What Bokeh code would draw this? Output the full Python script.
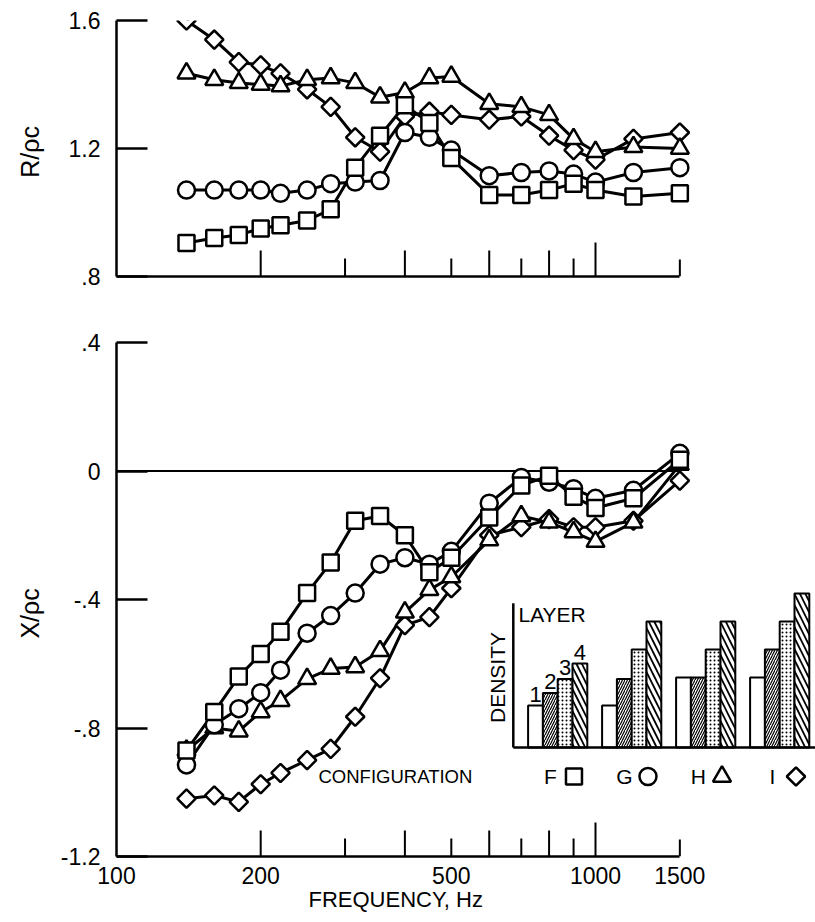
import numpy as np
from bokeh.plotting import figure
from bokeh.layouts import column
from bokeh.models import Range1d, FixedTicker, Label, LinearScale
from bokeh.embed import file_html
from bokeh.resources import INLINE
from bokeh.core.properties import value

FONT = "Liberation Sans"

# ---------------- data ----------------
freq = [140, 160, 180, 200, 220, 250, 280, 315, 355, 400,
        450, 500, 600, 700, 800, 900, 1000, 1200, 1500]

# resistance R/rho c
r_F = [0.905, 0.92, 0.93, 0.95, 0.96, 0.975, 1.01, 1.14, 1.24, 1.335,
       1.28, 1.17, 1.055, 1.055, 1.07, 1.09, 1.07, 1.05, 1.06]
r_G = [1.07, 1.07, 1.07, 1.07, 1.06, 1.07, 1.09, 1.095, 1.10, 1.25,
       1.235, 1.195, 1.115, 1.125, 1.13, 1.12, 1.095, 1.125, 1.14]
r_H = [1.435, 1.415, 1.405, 1.40, 1.395, 1.415, 1.42, 1.405, 1.36, 1.375,
       1.42, 1.425, 1.34, 1.33, 1.305, 1.23, 1.19, 1.205, 1.20]
r_I = [1.60, 1.54, 1.47, 1.46, 1.435, 1.385, 1.33, 1.235, 1.19, 1.30,
       1.315, 1.305, 1.29, 1.30, 1.24, 1.195, 1.165, 1.23, 1.25]

# reactance X/rho c
x_F = [-0.87, -0.75, -0.64, -0.57, -0.50, -0.38, -0.285, -0.155, -0.14, -0.20,
       -0.315, -0.27, -0.145, -0.045, -0.015, -0.08, -0.115, -0.085, 0.035]
x_G = [-0.915, -0.79, -0.74, -0.69, -0.62, -0.505, -0.45, -0.38, -0.29, -0.27,
       -0.29, -0.25, -0.10, -0.02, -0.035, -0.055, -0.085, -0.06, 0.055]
x_H = [-0.87, -0.80, -0.81, -0.75, -0.715, -0.647, -0.615, -0.61, -0.56, -0.44,
       -0.37, -0.33, -0.215, -0.14, -0.16, -0.19, -0.22, -0.16, 0.02]
x_I = [-1.02, -1.01, -1.03, -0.975, -0.94, -0.90, -0.865, -0.765, -0.645, -0.48,
       -0.455, -0.365, -0.20, -0.175, -0.15, -0.175, -0.175, -0.155, -0.03]

configs = ["F", "G", "H", "I"]
layers = ["1", "2", "3", "4"]
# inset: layer density per configuration (relative units)
dens_F = [3, 3.9, 4.9, 6]
dens_G = [3, 4.9, 7, 9]
dens_H = [5, 5, 7, 9]
dens_I = [5, 7, 9, 11]

x_label_ticks = [100, 200, 500, 1000, 1500]
x_label_text = ["100", "200", "500", "1000", "1500"]
x_tick_marks = [200, 300, 400, 500, 600, 700, 800, 900, 1000, 1500]
r_ticks = [0.8, 1.2, 1.6]
r_tick_text = [".8", "1.2", "1.6"]
x_ticks = [-1.2, -0.8, -0.4, 0.0, 0.4]
x_tick_text = ["-1.2", "-.8", "-.4", "0", ".4"]

# ---------------- styles ----------------
marker_style = {
    "F": dict(marker="square", size=16, angle=0.0),
    "G": dict(marker="circle", size=17, angle=0.0),
    "H": dict(marker="triangle", size=18, angle=0.0),
    "I": dict(marker="square", size=13, angle=np.pi / 4),
}
layer_hatch = [
    dict(hatch_pattern=" ", hatch_scale=1, hatch_weight=1),
    dict(hatch_pattern="/", hatch_scale=5, hatch_weight=1.2),
    dict(hatch_pattern=".", hatch_scale=4, hatch_weight=1.2),
    dict(hatch_pattern="\\", hatch_scale=11, hatch_weight=1.8),
]

NBSP = "\u00a0"
LEFT = 116               # frame left edge, px
FIG_W = 815
DECADE = 479.0           # px per decade
FRAME_W = FIG_W - LEFT
xr = Range1d(100, 100 * 10 ** (FRAME_W / DECADE))


def tick_len(f):
    if f == 1000:
        return 34
    if f == 1500:
        return 17
    return 26 if (f // 100) % 2 == 0 else 18


def base_fig(height, yr, top, bottom, ylabel, ylabel_standoff):
    p = figure(width=FIG_W, height=height, x_axis_type="log", x_range=xr, y_range=yr,
               output_backend="svg", toolbar_location=None,
               min_border_left=LEFT, min_border_right=0,
               min_border_top=top, min_border_bottom=bottom)
    p.outline_line_color = None
    p.grid.grid_line_color = None
    p.background_fill_color = "white"
    p.border_fill_color = "white"
    xa = p.xaxis[0]
    xa.bounds = (100, 1500)
    xa.axis_line_width = 2.5
    xa.major_tick_in = 0
    xa.major_tick_out = 0
    xa.minor_tick_in = 0
    xa.minor_tick_out = 0
    ya = p.yaxis[0]
    ya.axis_line_width = 2.5
    ya.major_tick_in = 31
    ya.major_tick_out = 0
    ya.major_tick_line_width = 2.5
    ya.minor_tick_in = 0
    ya.minor_tick_out = 0
    ya.major_label_standoff = 16
    ya.major_label_text_font = FONT
    ya.major_label_text_font_size = "23px"
    ya.major_label_text_color = "black"
    ya.axis_label = ylabel
    ya.axis_label_standoff = ylabel_standoff
    ya.axis_label_text_font = FONT
    ya.axis_label_text_font_size = "25px"
    ya.axis_label_text_font_style = "normal"
    ya.axis_label_text_color = "black"
    # tick marks along the frequency axis (pointing inward)
    p.ray(x=x_tick_marks, y=[yr.start] * len(x_tick_marks),
          length=[tick_len(f) for f in x_tick_marks], length_units="screen",
          angle=90, angle_units="deg", line_color="black", line_width=2)
    return p


def draw_series(p, series):
    for c, ys in series:
        p.line(freq, ys, line_color="black", line_width=3)
    for c, ys in series:
        st = marker_style[c]
        p.scatter(freq, ys, marker=st["marker"], size=st["size"], angle=st["angle"],
                  fill_color="white", line_color="black", line_width=2.5)


# ---------------- top panel: R/rho c ----------------
top = base_fig(310, Range1d(0.8, 1.6), 20, 34, "R/\u03c1c" + NBSP, 22)
top.xaxis[0].ticker = FixedTicker(ticks=[], minor_ticks=[])
top.yaxis[0].ticker = FixedTicker(ticks=r_ticks, minor_ticks=[])
top.yaxis[0].major_label_overrides = dict(zip(r_ticks, r_tick_text))
draw_series(top, [("I", r_I), ("H", r_H), ("G", r_G), ("F", r_F)])

# ---------------- bottom panel: X/rho c ----------------
FR_TOP, FR_BOT = 342, 856
BOT_TOP_B, BOT_BOTTOM_B = 32, 66
bot = base_fig(BOT_TOP_B + (FR_BOT - FR_TOP) + BOT_BOTTOM_B, Range1d(-1.2, 0.4),
               BOT_TOP_B, BOT_BOTTOM_B, "X/\u03c1c" + NBSP * 4, 14)
xa = bot.xaxis[0]
xa.ticker = FixedTicker(ticks=x_label_ticks, minor_ticks=[])
xa.major_label_overrides = dict(zip(x_label_ticks, x_label_text))
xa.major_label_standoff = 10
xa.major_label_text_font = FONT
xa.major_label_text_font_size = "23px"
xa.major_label_text_color = "black"
# the title sits left of the frame centre: pad it with no-break spaces
xa.axis_label = "FREQUENCY, Hz" + NBSP * 23
xa.axis_label_standoff = 0
xa.axis_label_text_font = FONT
xa.axis_label_text_font_size = "22px"
xa.axis_label_text_font_style = "normal"
xa.axis_label_text_color = "black"
bot.yaxis[0].ticker = FixedTicker(ticks=x_ticks, minor_ticks=[])
bot.yaxis[0].major_label_overrides = dict(zip(x_ticks, x_tick_text))

# inset coordinate system: 1 unit = one bar (14.8 px) horizontally, 14 px per density unit
BAR_PX, DEN_PX, BAR0_X, BASE_Y = 14.8, 14.0, 535.0, 747.0
bot.extra_x_ranges = {"ix": Range1d((LEFT - BAR0_X) / BAR_PX, (FIG_W - BAR0_X) / BAR_PX)}
bot.extra_x_scales = {"ix": LinearScale()}
bot.extra_y_ranges = {"iy": Range1d((BASE_Y - FR_BOT) / DEN_PX, (BASE_Y - FR_TOP) / DEN_PX)}
bot.extra_y_scales = {"iy": LinearScale()}

bot.line([100, 1500], [0, 0], line_color="black", line_width=2)
draw_series(bot, [("I", x_I), ("H", x_H), ("G", x_G), ("F", x_F)])

# ---------------- inset bar chart ----------------
dens = {"F": dens_F, "G": dens_G, "H": dens_H, "I": dens_I}
GROUP_STEP = 5
for li in range(4):
    xs = [GROUP_STEP * gi + li for gi in range(len(configs))]
    tops = [dens[c][li] for c in configs]
    bot.vbar(x=xs, top=tops, bottom=0, width=1.0, fill_color="white",
             line_color="black", line_width=2, hatch_color="black",
             x_range_name="ix", y_range_name="iy", **layer_hatch[li])

ax_left = -1.5
bot.line([ax_left, ax_left], [0, 10.3], line_color="black", line_width=2.5,
         x_range_name="ix", y_range_name="iy")
bot.line([ax_left, (FIG_W - BAR0_X) / BAR_PX], [0, 0], line_color="black", line_width=2.5,
         x_range_name="ix", y_range_name="iy")

# layer numbers over configuration F
bot.text(x=[li for li in range(4)], y=[d + 0.25 for d in dens_F], text=layers,
         text_align="center", text_baseline="bottom", text_font=value(FONT),
         text_font_size="22px", text_color="black", x_range_name="ix", y_range_name="iy")
bot.add_layout(Label(x=-1.15, y=9.5, x_range_name="ix", y_range_name="iy", text="LAYER",
                     text_align="left", text_baseline="middle",
                     text_font=FONT, text_font_size="21px", text_color="black"))
bot.add_layout(Label(x=-2.55, y=5.0, x_range_name="ix", y_range_name="iy", text="DENSITY",
                     angle=np.pi / 2, text_align="center", text_baseline="middle",
                     text_font=FONT, text_font_size="21px", text_color="black"))

# configuration key
KEY_Y = (BASE_Y - 776) / DEN_PX
centers = [GROUP_STEP * gi + 1.5 for gi in range(len(configs))]
bot.add_layout(Label(x=(318 - BAR0_X) / BAR_PX, y=KEY_Y, x_range_name="ix", y_range_name="iy",
                     text="CONFIGURATION", text_align="left", text_baseline="middle",
                     text_font=FONT, text_font_size="18.5px", text_color="black"))
bot.text(x=[c - 0.5 for c in centers], y=[KEY_Y] * 4, text=configs,
         text_align="center", text_baseline="middle", text_font=value(FONT),
         text_font_size="21px", text_color="black", x_range_name="ix", y_range_name="iy")
for gi, c in enumerate(configs):
    st = marker_style[c]
    bot.scatter([centers[gi] + 1.1], [KEY_Y], marker=st["marker"], size=st["size"],
                angle=st["angle"], fill_color="white", line_color="black", line_width=2.5,
                x_range_name="ix", y_range_name="iy")

layout = column(top, bot, spacing=0)
open("out.html", "w").write(file_html(layout, INLINE))
